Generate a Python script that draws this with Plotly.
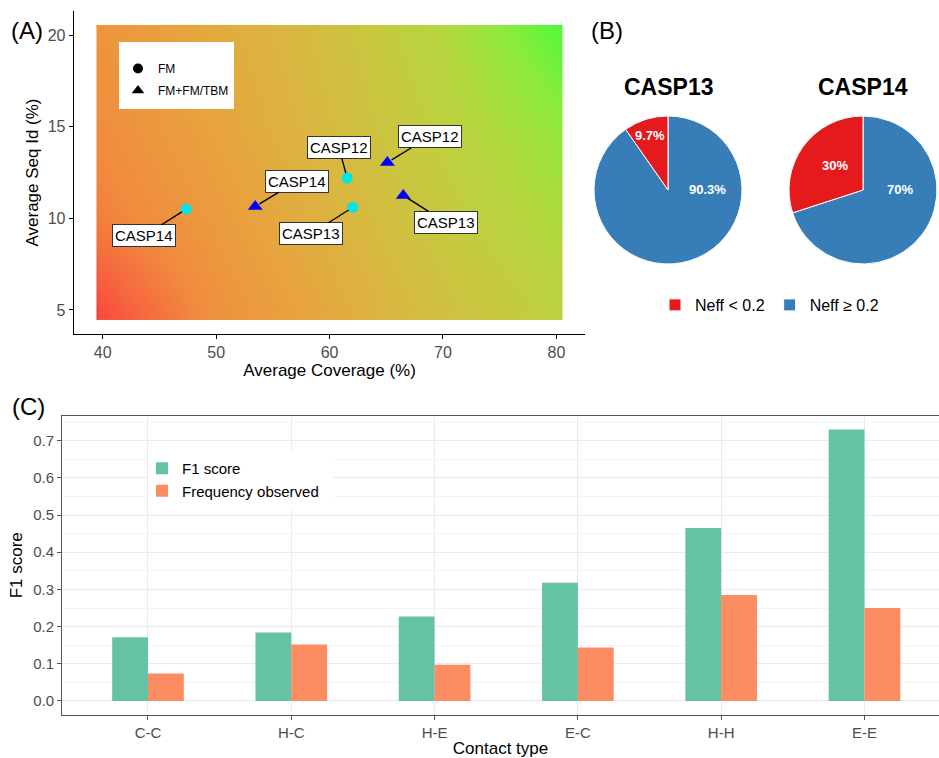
import plotly.graph_objects as go

# ---------------- Panel A data ----------------
fm_labels = ["CASP14", "CASP12", "CASP13"]
fm_coverage = [47.35, 61.55, 62.05]
fm_seqid = [10.5, 12.2, 10.6]

tbm_labels = ["CASP14", "CASP12", "CASP13"]
tbm_coverage = [53.45, 65.1, 66.5]
tbm_seqid = [10.65, 13.05, 11.25]

# background score read at grid points (coverage x seq id)
bg_coverage = [39.5, 39.6, 50, 60, 70, 80.4, 80.5]
bg_seqid = [4.5, 4.6, 10, 15, 20.4, 20.5]
bg_score = [
    [0.00, 0.04, 0.28, 0.42, 0.57, 0.68, 0.68],
    [0.00, 0.04, 0.28, 0.42, 0.57, 0.68, 0.68],
    [0.20, 0.21, 0.34, 0.48, 0.63, 0.76, 0.76],
    [0.25, 0.26, 0.39, 0.53, 0.68, 0.84, 0.85],
    [0.29, 0.30, 0.43, 0.56, 0.73, 0.97, 1.00],
    [0.29, 0.30, 0.43, 0.56, 0.73, 0.98, 1.00],
]

# ---------------- Panel B data ----------------
# slices listed in drawing order (clockwise from 12 o'clock)
neff_labels = ["Neff \u2265 0.2", "Neff < 0.2"]
casp13_pct = [90.3, 9.7]
casp14_pct = [70, 30]

# ---------------- Panel C data ----------------
contact_types = ["C-C", "H-C", "H-E", "E-C", "H-H", "E-E"]
f1_score = [0.171, 0.184, 0.227, 0.318, 0.465, 0.730]
freq_observed = [0.074, 0.152, 0.097, 0.144, 0.285, 0.250]

# ---------------- layout helpers (positions, styles) ----------------
W, H = 939, 758
FONT = "Liberation Sans, Arial, sans-serif"
def px(x):
    return x / W
def py(y):
    return 1 - y / H

fm_label_pos = [(43.66, 9.05), (60.82, 13.87), (58.37, 9.16)]
tbm_label_pos = [(57.1, 12.02), (68.82, 14.45), (70.26, 9.78)]
pie_text_pos = [[(707, 189), (650, 135)], [(900, 189), (835, 166)]]

RED, BLUE = "#E41A1C", "#377EB8"
GREEN2, ORANGE2 = "#66C2A5", "#FC8D62"

bg_colorscale = [
    [0.0, "rgb(250,60,60)"],
    [0.12, "rgb(246,100,62)"],
    [0.25, "rgb(240,140,62)"],
    [0.38, "rgb(232,162,62)"],
    [0.5, "rgb(218,182,64)"],
    [0.62, "rgb(200,200,64)"],
    [0.74, "rgb(178,216,62)"],
    [0.86, "rgb(140,235,60)"],
    [1.0, "rgb(70,250,60)"],
]

fig = go.Figure()

# Panel A
fig.add_trace(go.Heatmap(x=bg_coverage, y=bg_seqid, z=bg_score, zsmooth="best",
                         colorscale=bg_colorscale, zmin=0, zmax=1, showscale=False,
                         hoverinfo="skip", xaxis="x", yaxis="y"))
fig.add_trace(go.Scatter(x=fm_coverage, y=fm_seqid, mode="markers", showlegend=False,
                         marker=dict(symbol="circle", size=11, color="#00E5E5"),
                         xaxis="x", yaxis="y"))
fig.add_trace(go.Scatter(x=tbm_coverage, y=tbm_seqid, mode="markers", showlegend=False,
                         marker=dict(symbol="triangle-up", size=13, color="#0000FF"),
                         xaxis="x", yaxis="y"))
# legend keys (black shapes, as in the original)
fig.add_trace(go.Scatter(x=[None], y=[None], mode="markers", name="FM", legend="legend",
                         legendgroup="a", marker=dict(symbol="circle", size=10, color="black"),
                         xaxis="x", yaxis="y"))
fig.add_trace(go.Scatter(x=[None], y=[None], mode="markers", name="FM+FM/TBM", legend="legend",
                         legendgroup="b", marker=dict(symbol="triangle-up", size=11, color="black"),
                         xaxis="x", yaxis="y"))

annotations = []
for labs, xs, ys, pos in [(fm_labels, fm_coverage, fm_seqid, fm_label_pos),
                          (tbm_labels, tbm_coverage, tbm_seqid, tbm_label_pos)]:
    for lab, x, y, (lx, ly) in zip(labs, xs, ys, pos):
        annotations.append(dict(x=x, y=y, ax=lx, ay=ly, xref="x", yref="y", axref="x", ayref="y",
                                text=lab, showarrow=True, arrowhead=0, arrowwidth=1.4,
                                arrowcolor="black", standoff=5, bgcolor="white",
                                bordercolor="#333333", borderwidth=1, borderpad=2,
                                font=dict(size=15, color="black", family=FONT)))

# Panel B pies
pie_domains = [dict(x=[px(594), px(742)], y=[py(264), py(116)]),
               dict(x=[px(789), px(937)], y=[py(264), py(116)])]
for i, (vals, title) in enumerate([(casp13_pct, "CASP13"), (casp14_pct, "CASP14")]):
    fig.add_trace(go.Pie(labels=neff_labels, values=vals, sort=False, direction="clockwise",
                         rotation=0, textinfo="none", hoverinfo="label+percent",
                         marker=dict(colors=[BLUE, RED], line=dict(color="white", width=1)),
                         domain=pie_domains[i], showlegend=(i == 0), legend="legend2"))
    cx = (pie_domains[i]["x"][0] + pie_domains[i]["x"][1]) / 2
    annotations.append(dict(x=cx, y=py(87), xref="paper", yref="paper", text="<b>%s</b>" % title,
                            xanchor="center", yanchor="middle", showarrow=False,
                            font=dict(size=23, color="black", family=FONT)))
    for v, (tx, ty) in zip(vals, pie_text_pos[i]):
        annotations.append(dict(x=px(tx), y=py(ty), xref="paper", yref="paper",
                                xanchor="center", yanchor="middle",
                                text="<b>%g%%</b>" % v, showarrow=False,
                                font=dict(size=13, color="white", family=FONT)))

# Panel C bars
fig.add_trace(go.Bar(x=contact_types, y=f1_score, name="F1 score", marker_color=GREEN2,
                     marker_line_width=0, xaxis="x2", yaxis="y2", legend="legend3"))
fig.add_trace(go.Bar(x=contact_types, y=freq_observed, name="Frequency observed", marker_color=ORANGE2,
                     marker_line_width=0, xaxis="x2", yaxis="y2", legend="legend3"))

# panel letters
for t, (x, y) in [("(A)", (27, 30)), ("(B)", (607, 31)), ("(C)", (28, 406))]:
    annotations.append(dict(x=px(x), y=py(y), xref="paper", yref="paper", text=t, showarrow=False,
                            xanchor="center", yanchor="middle",
                            font=dict(size=24, color="black", family=FONT)))

# white boxes behind the in-panel legends
shapes = [
    dict(type="rect", xref="paper", yref="paper", x0=px(119), x1=px(234), y0=py(109), y1=py(42),
         fillcolor="white", line=dict(width=0), layer="above"),
    dict(type="rect", xref="paper", yref="paper", x0=px(148), x1=px(333), y0=py(510), y1=py(452),
         fillcolor="white", line=dict(width=0), layer="above"),
]

tick_grey = "#4D4D4D"
fig.update_layout(
    width=W, height=H, autosize=False,
    margin=dict(l=0, r=0, t=0, b=0),
    paper_bgcolor="white", plot_bgcolor="white",
    font=dict(family=FONT, color="black"),
    barmode="group", bargap=0.5, bargroupgap=0,
    annotations=annotations, shapes=shapes,
    xaxis=dict(domain=[px(73.8), px(585.3)], range=[37.45, 82.55], tickvals=[40, 50, 60, 70, 80],
               anchor="y", showline=True, linecolor="black", linewidth=1.2, ticks="outside",
               ticklen=4, tickcolor="black", showgrid=False, zeroline=False,
               tickfont=dict(size=16, color=tick_grey),
               title=dict(text="Average Coverage (%)", font=dict(size=17), standoff=3)),
    yaxis=dict(domain=[py(333.8), py(11.2)], range=[3.7, 21.3], tickvals=[5, 10, 15, 20],
               anchor="x", showline=True, linecolor="black", linewidth=1.2, ticks="outside",
               ticklen=4, tickcolor="black", showgrid=False, zeroline=False,
               tickfont=dict(size=16, color=tick_grey),
               title=dict(text="Average Seq Id (%)", font=dict(size=17), standoff=4)),
    xaxis2=dict(domain=[px(62), 1.0], range=[-0.6, 5.52], type="category", anchor="y2",
                showline=True, mirror=True, linecolor="#555555", linewidth=1,
                ticks="outside", ticklen=4, tickcolor="#555555", showgrid=True,
                gridcolor="#EBEBEB", gridwidth=1, zeroline=False,
                tickfont=dict(size=15, color=tick_grey),
                title=dict(text="Contact type", font=dict(size=17), standoff=2)),
    yaxis2=dict(domain=[py(714.5), py(416)], range=[-0.0365, 0.7665], dtick=0.1, tick0=0,
                anchor="x2", tickformat=".1f", showline=True, mirror=False, linecolor="#555555",
                linewidth=1, ticks="outside", ticklen=4, tickcolor="#555555", showgrid=True,
                gridcolor="#EBEBEB", gridwidth=1.1, zeroline=False,
                minor=dict(dtick=0.05, showgrid=True, gridcolor="#F4F4F4", gridwidth=0.6),
                tickfont=dict(size=15, color=tick_grey),
                title=dict(text="F1 score", font=dict(size=17), standoff=6)),
    legend=dict(x=px(118), y=py(54), xanchor="left", yanchor="top", bgcolor="rgba(0,0,0,0)",
                font=dict(size=12, color="black"), borderwidth=0, tracegroupgap=3),
    legend2=dict(x=px(655), y=py(288), xanchor="left", yanchor="top", orientation="h",
                 traceorder="reversed",
                 bgcolor="rgba(0,0,0,0)", font=dict(size=16, color="black")),
    legend3=dict(x=px(142), y=py(452), xanchor="left", yanchor="top", bgcolor="rgba(0,0,0,0)",
                 font=dict(size=15, color="black")),
)

fig.write_html("out.html", config={"displayModeBar": False},
               post_script="document.body.style.margin='0px';")
